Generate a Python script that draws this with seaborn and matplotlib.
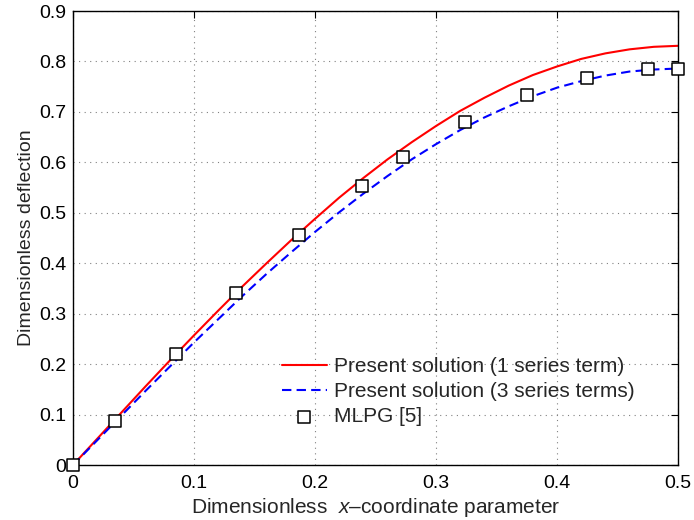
import matplotlib
matplotlib.use("Agg")
import matplotlib.pyplot as plt
import numpy as np
import pandas as pd
import seaborn as sns

# Dimensionless x-coordinate samples for the two analytical curves
x_curve = [0.00, 0.02, 0.04, 0.06, 0.08, 0.10, 0.12, 0.14, 0.16, 0.18, 0.20,
           0.22, 0.24, 0.26, 0.28, 0.30, 0.32, 0.34, 0.36, 0.38, 0.40, 0.42,
           0.44, 0.46, 0.48, 0.50]

# Present solution, 1 series term
defl_1term = [0.000, 0.052, 0.104, 0.156, 0.207, 0.257, 0.306, 0.354, 0.400,
              0.445, 0.488, 0.530, 0.569, 0.606, 0.640, 0.672, 0.702, 0.728,
              0.752, 0.773, 0.790, 0.805, 0.816, 0.824, 0.829, 0.831]

# Present solution, 3 series terms
defl_3terms = [0.000, 0.049, 0.098, 0.147, 0.195, 0.243, 0.289, 0.335, 0.379,
               0.421, 0.462, 0.501, 0.538, 0.573, 0.606, 0.636, 0.664, 0.689,
               0.711, 0.731, 0.748, 0.761, 0.772, 0.780, 0.784, 0.786]

# MLPG reference results [5]
x_mlpg = [0.000, 0.035, 0.085, 0.135, 0.187, 0.239, 0.273, 0.324, 0.375,
          0.425, 0.475, 0.500]
defl_mlpg = [0.000, 0.087, 0.220, 0.341, 0.456, 0.553, 0.611, 0.680, 0.734,
             0.767, 0.785, 0.786]

x_ticks = [0, 0.1, 0.2, 0.3, 0.4, 0.5]
x_tick_labels = ["0", "0.1", "0.2", "0.3", "0.4", "0.5"]
y_ticks = [0, 0.1, 0.2, 0.3, 0.4, 0.5, 0.6, 0.7, 0.8, 0.9]
y_tick_labels = ["0", "0.1", "0.2", "0.3", "0.4", "0.5", "0.6", "0.7", "0.8",
                 "0.9"]

sns.set_style("white")
plt.rcParams["font.family"] = ["Liberation Sans", "DejaVu Sans"]
plt.rcParams["mathtext.fontset"] = "custom"
plt.rcParams["mathtext.rm"] = "Liberation Sans"
plt.rcParams["mathtext.it"] = "Liberation Sans:italic"

fig = plt.figure(figsize=(6.94, 5.20), dpi=100)
ax = fig.add_axes([73 / 694, 55 / 520, 605 / 694, 454 / 520])

df1 = pd.DataFrame({"x": x_curve, "y": defl_1term})
df3 = pd.DataFrame({"x": x_curve, "y": defl_3terms})
dfm = pd.DataFrame({"x": x_mlpg, "y": defl_mlpg})

sns.lineplot(data=df1, x="x", y="y", ax=ax, color="red", linewidth=1.5,
             label="Present solution (1 series term)", zorder=2)
sns.lineplot(data=df3, x="x", y="y", ax=ax, color="blue", linewidth=1.5,
             linestyle=(0, (4.5, 2.5)),
             label="Present solution (3 series terms)", zorder=2)
sns.scatterplot(data=dfm, x="x", y="y", ax=ax, marker="s", s=75,
                facecolor="white", edgecolor="black", linewidth=1.1,
                label="MLPG [5]", zorder=3, clip_on=False)

ax.set_xlim(0, 0.5)
ax.set_ylim(0, 0.9)
ax.set_xticks(x_ticks)
ax.set_xticklabels(x_tick_labels)
ax.set_yticks(y_ticks)
ax.set_yticklabels(y_tick_labels)

ax.grid(True, color="#808080", linestyle=(0, (1, 4)), linewidth=0.8)
ax.tick_params(direction="in", top=True, right=True, length=5, width=0.8,
               labelsize=14, colors="black")
ax.tick_params(axis="x", pad=7)
ax.tick_params(axis="y", pad=5)
for side in ax.spines.values():
    side.set_color("black")
    side.set_linewidth(1.0)

ax.set_xlabel(r"Dimensionless  $\it{x}$–coordinate parameter", fontsize=15,
              labelpad=3)
ax.set_ylabel("Dimensionless deflection", fontsize=14, labelpad=3)

ax.legend(loc="upper left", bbox_to_anchor=(0.345, 0.238), frameon=False,
          fontsize=15, borderpad=0, borderaxespad=0, handlelength=2.15,
          handletextpad=0.35, labelspacing=0.3)

fig.savefig("out.png", dpi=100)
